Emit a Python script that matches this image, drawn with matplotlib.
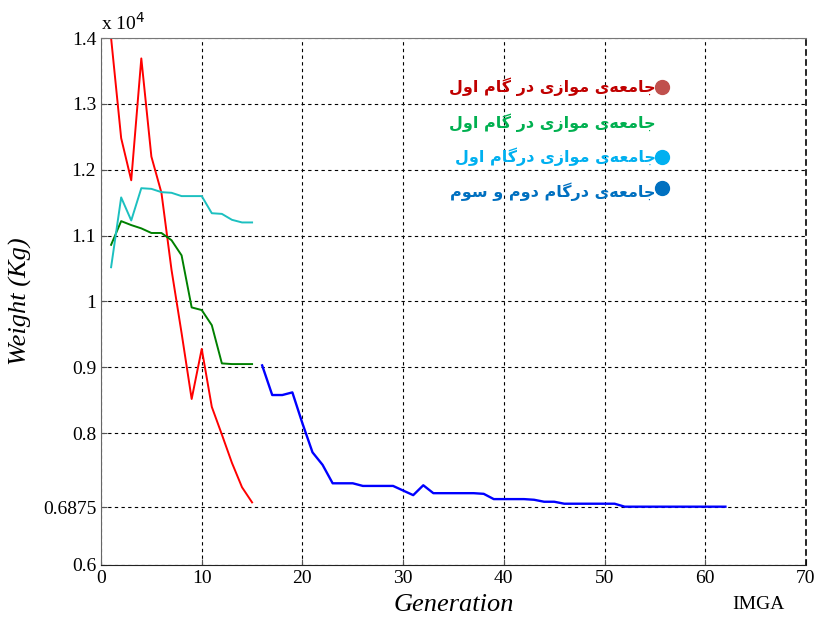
import numpy as np
import matplotlib.pyplot as plt

# --- data (kg) ---
gen_a = list(range(1, 16))
red = [14000, 12480, 11840, 13690, 12200, 11650, 10480, 9520, 8520, 9280,
       8400, 7980, 7550, 7180, 6950]
green = [10860, 11220, 11160, 11110, 11040, 11040, 10930, 10700, 9910, 9870,
         9640, 9060, 9050, 9050, 9050]
cyan = [10520, 11580, 11230, 11720, 11710, 11660, 11650, 11600, 11600, 11600,
        11340, 11330, 11240, 11200, 11200]
gen_b = list(range(16, 63))
blue = [9030, 8580, 8580, 8620, 8150, 7710, 7520, 7240, 7240, 7240,
        7200, 7200, 7200, 7200, 7130, 7060, 7210, 7090, 7090, 7090,
        7090, 7090, 7080, 7000, 7000, 7000, 7000, 6990, 6960, 6960,
        6930, 6930, 6930, 6930, 6930, 6930, 6885, 6885, 6885, 6885,
        6885, 6885, 6885, 6885, 6885, 6885, 6885]

yticks = [6000, 6875, 8000, 9000, 10000, 11000, 12000, 13000, 14000]
ytick_labels = ['0.6', '0.6875', '0.8', '0.9', '1', '1.1', '1.2', '1.3', '1.4']
xticks = [0, 10, 20, 30, 40, 50, 60, 70]

legend_texts = ['جامعه‌ی موازی در گام اول',
                'جامعه‌ی موازی در گام اول',
                'جامعه‌ی موازی درگام اول',
                'جامعه‌ی درگام دوم و سوم']
legend_colors = ['#c00000', '#00b050', '#00b0f0', '#0070c0']
dot_colors = ['#c0504d', None, '#00b0f0', '#0070c0']

# --- simple arabic/persian shaping (matplotlib has no bidi) ---
# isolated, final, initial, medial
FORMS = {
    'ا': ('\uFE8D', '\uFE8E', None, None),
    'ج': ('\uFE9D', '\uFE9E', '\uFE9F', '\uFEA0'),
    'م': ('\uFEE1', '\uFEE2', '\uFEE3', '\uFEE4'),
    'ع': ('\uFEC9', '\uFECA', '\uFECB', '\uFECC'),
    'ه': ('\uFEE9', '\uFEEA', '\uFEEB', '\uFEEC'),
    'ی': ('\uFBFC', '\uFBFD', '\uFBFE', '\uFBFF'),
    'و': ('\uFEED', '\uFEEE', None, None),
    'ز': ('\uFEAF', '\uFEB0', None, None),
    'د': ('\uFEA9', '\uFEAA', None, None),
    'ر': ('\uFEAD', '\uFEAE', None, None),
    'گ': ('\uFB92', '\uFB93', '\uFB94', '\uFB95'),
    'ل': ('\uFEDD', '\uFEDE', '\uFEDF', '\uFEE0'),
    'س': ('\uFEB1', '\uFEB2', '\uFEB3', '\uFEB4'),
}


def shape(s):
    out = []
    for i, ch in enumerate(s):
        if ch == '\u200c':
            continue
        if ch not in FORMS:
            out.append(ch)
            continue
        prev = s[i - 1] if i > 0 else ''
        nxt = s[i + 1] if i + 1 < len(s) else ''
        join_prev = prev in FORMS and FORMS[prev][2] is not None
        join_next = FORMS[ch][2] is not None and nxt in FORMS
        f = FORMS[ch]
        if join_prev and join_next:
            out.append(f[3])
        elif join_prev:
            out.append(f[1])
        elif join_next:
            out.append(f[2])
        else:
            out.append(f[0])
    return ''.join(out)[::-1]


plt.rcParams['font.family'] = ['Liberation Serif', 'DejaVu Serif']

fig = plt.figure(figsize=(8.22, 6.18), dpi=100)
ax = fig.add_axes([0.1229, 0.0858, 0.8576, 0.8527])

ax.plot(gen_a, red, color='#ff0000', lw=1.4)
ax.plot(gen_a, green, color='#008000', lw=1.4)
ax.plot(gen_a, cyan, color='#1cc0c0', lw=1.4)
ax.plot(gen_b, blue, color='#0000ff', lw=1.7)

ax.set_xlim(0, 70)
ax.set_ylim(6000, 14000)
ax.set_xticks(xticks)
ax.set_yticks(yticks)
ax.set_yticklabels(ytick_labels)
ax.tick_params(direction='in', labelsize=14, length=4, color='#555555')
ax.grid(True, color='black', linestyle=(0, (3, 3)), linewidth=0.8)
ax.spines['right'].set_color('black')
ax.spines['right'].set_linestyle((0, (3, 3)))
ax.spines['right'].set_linewidth(1.2)
ax.spines['top'].set_color('#777777')
ax.spines['left'].set_color('#666666')
ax.spines['bottom'].set_color('#222222')

ax.text(0, 1.008, 'x 10$^4$', transform=ax.transAxes, fontsize=14,
        ha='left', va='bottom')
ax.set_ylabel('Weight (Kg)', fontsize=19, style='italic', labelpad=8)
ax.set_xlabel('Generation', fontsize=19, style='italic', labelpad=5)
fig.text(0.923, 0.008, 'IMGA', fontsize=14, ha='center', va='bottom')

leg_y = [0.907, 0.839, 0.774, 0.708]
dot_y = [0.907, None, 0.774, 0.715]
for txt, c, y, dc, dy in zip(legend_texts, legend_colors, leg_y, dot_colors, dot_y):
    ax.text(0.787, y, shape(txt), transform=ax.transAxes, color=c,
            fontsize=11.5, fontweight='bold', family=['DejaVu Sans'],
            ha='right', va='center')
    if dc is not None:
        ax.plot([0.796], [dy], 'o', color=dc, ms=10, transform=ax.transAxes,
                clip_on=False)

fig.savefig('out.png', dpi=100)
